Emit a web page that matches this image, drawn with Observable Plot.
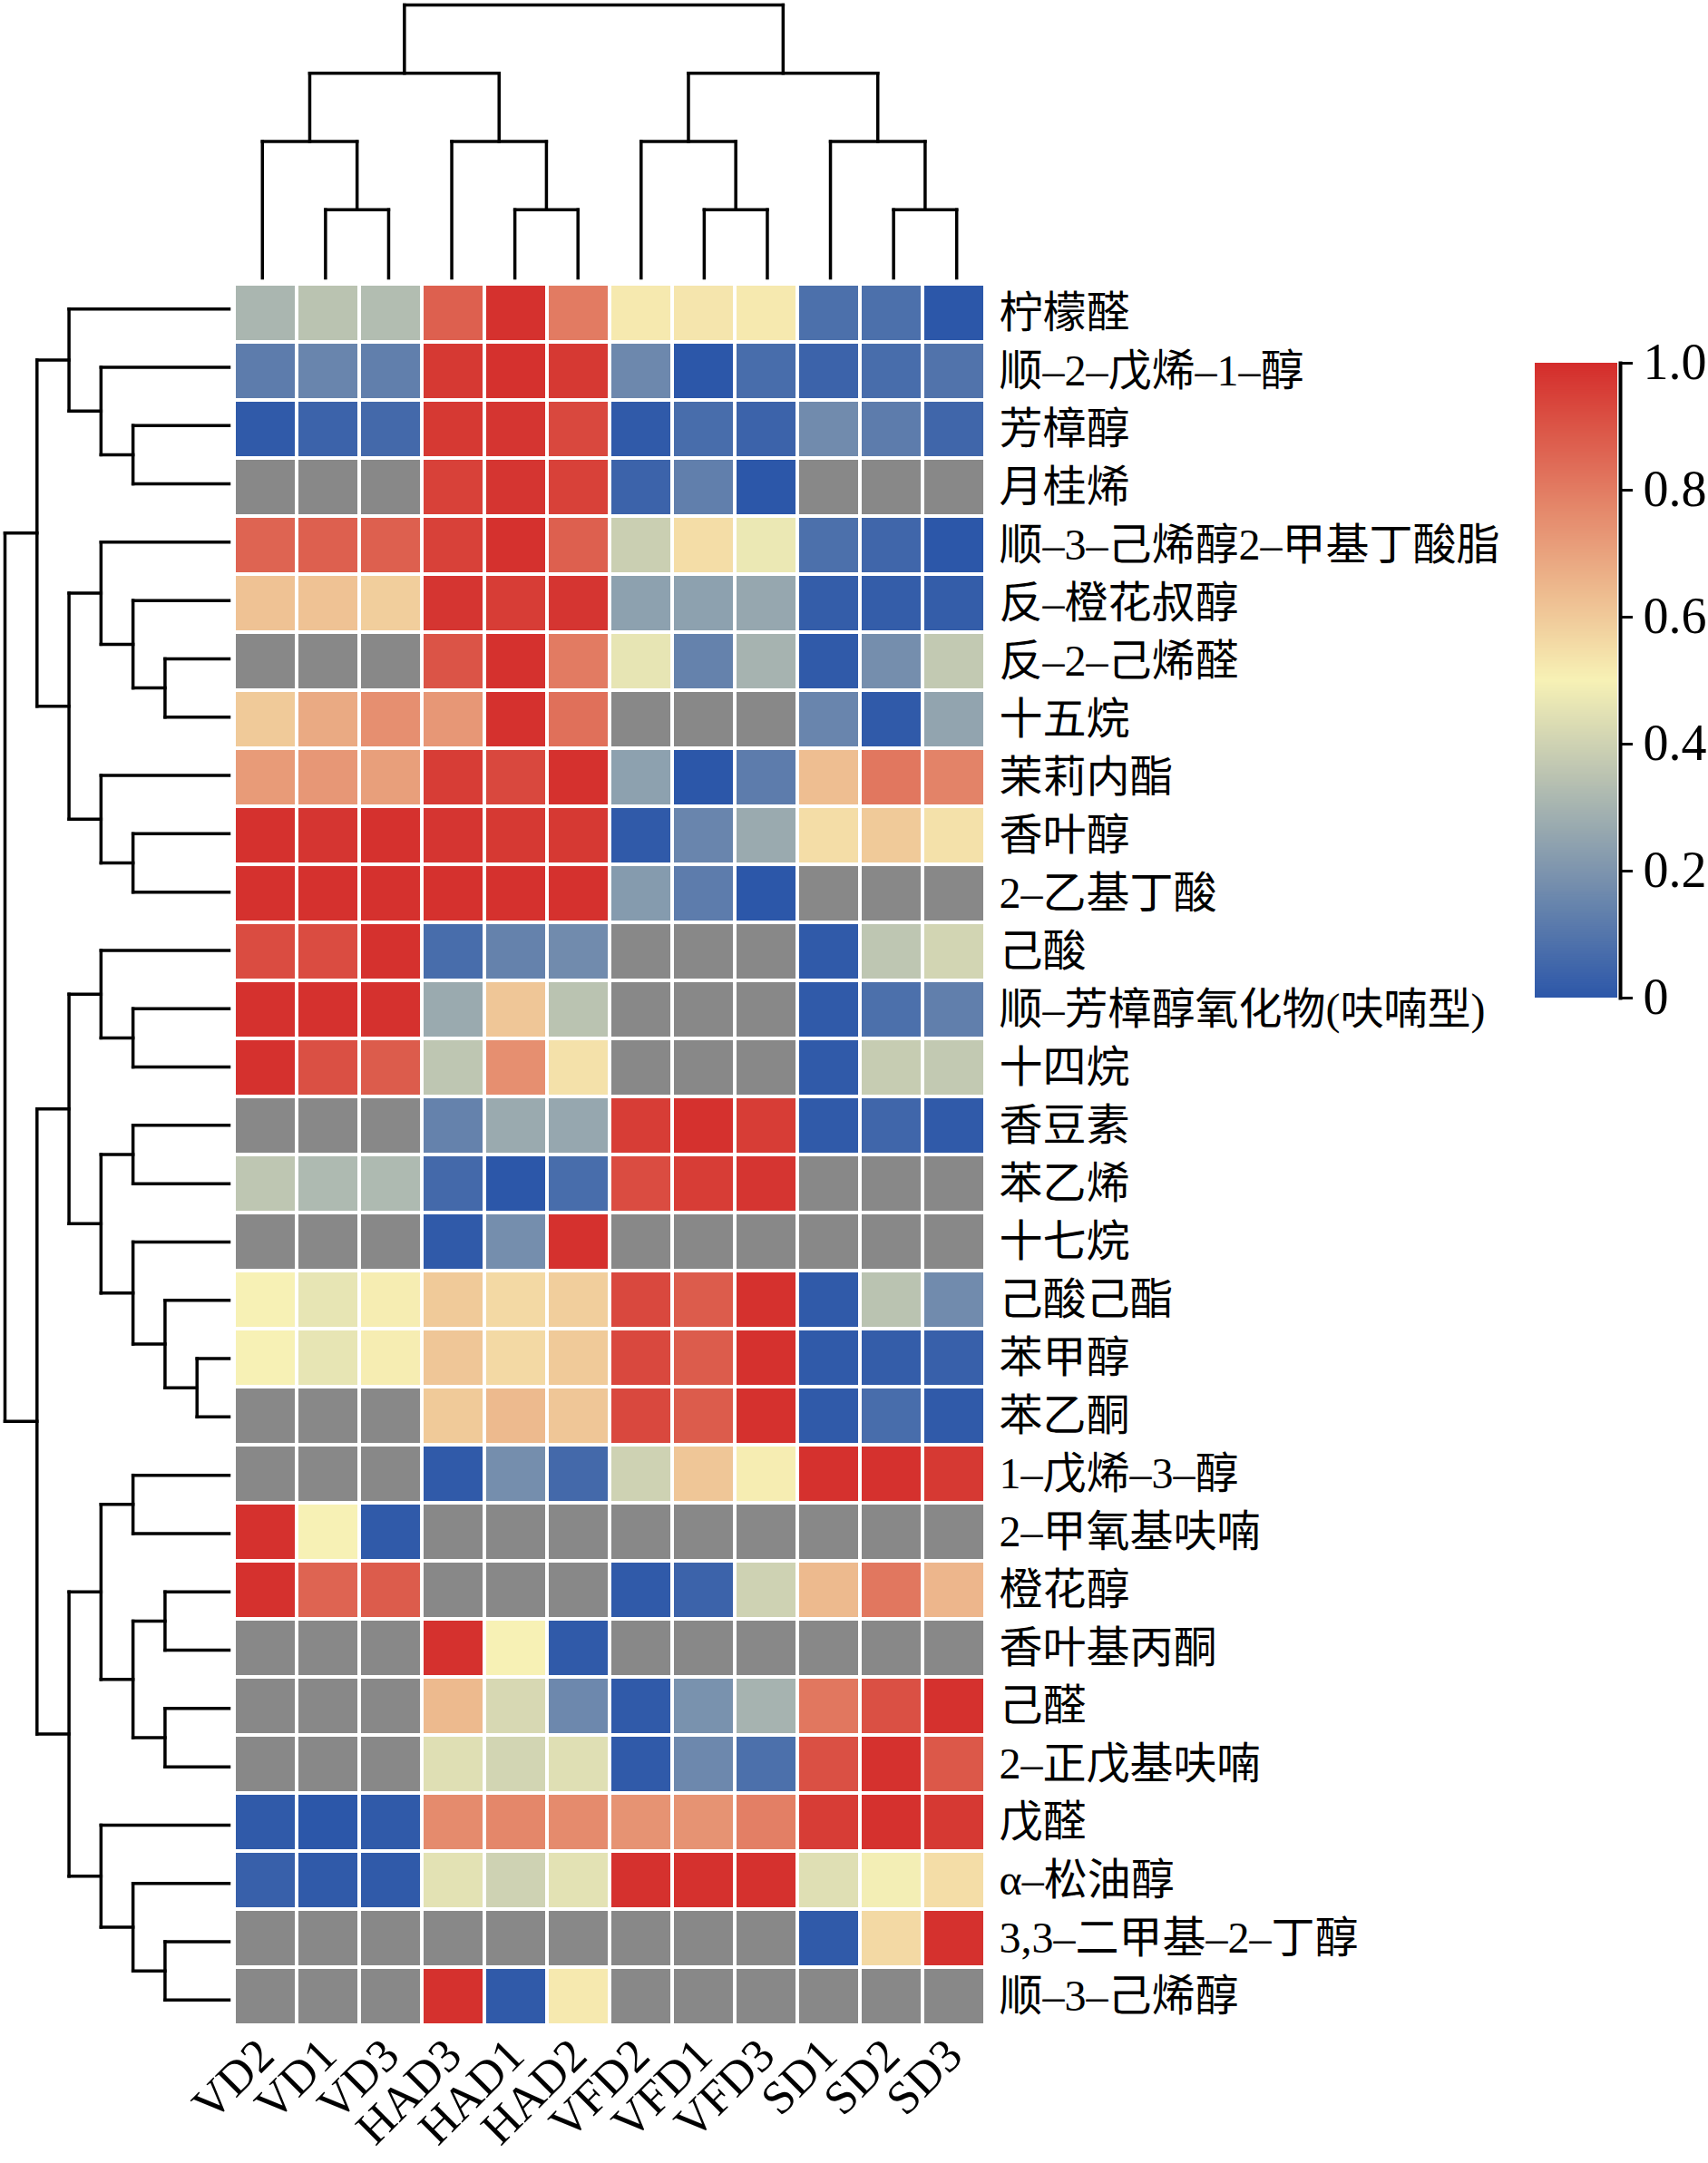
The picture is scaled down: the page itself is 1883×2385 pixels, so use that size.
<!DOCTYPE html>
<html><head><meta charset="utf-8">
<script src="https://cdn.jsdelivr.net/npm/d3@7"></script>
<script src="https://cdn.jsdelivr.net/npm/@observablehq/plot@0.6"></script>
<style>
body{margin:0;background:#fff;}
#chart{position:relative;width:1883px;height:2385px;overflow:hidden;background:#fff;}
#chart > svg{position:absolute;left:0;top:0;}
</style></head><body><div id="chart"></div>
<script>
// ---------- data ----------
const samples = ["VD2","VD1","VD3","HAD3","HAD1","HAD2","VFD2","VFD1","VFD3","SD1","SD2","SD3"];
const compounds = [
  "柠檬醛","顺–2–戊烯–1–醇","芳樟醇","月桂烯","顺–3–己烯醇2–甲基丁酸脂","反–橙花叔醇","反–2–己烯醛","十五烷",
  "茉莉内酯","香叶醇","2–乙基丁酸","己酸","顺–芳樟醇氧化物(呋喃型)","十四烷","香豆素","苯乙烯","十七烷",
  "己酸己酯","苯甲醇","苯乙酮","1–戊烯–3–醇","2–甲氧基呋喃","橙花醇","香叶基丙酮","己醛","2–正戊基呋喃",
  "戊醛","α–松油醇","3,3–二甲基–2–丁醇","顺–3–己烯醇"
];
const N = null; // not detected (grey)
// one row per compound, columns in the order of `samples`
const values = [
  [0.31,0.35,0.33, 0.87,0.99,0.80, 0.52,0.53,0.52, 0.08,0.08,0.00],
  [0.12,0.15,0.13, 0.97,0.99,0.97, 0.16,0.00,0.07, 0.04,0.07,0.09],
  [0.01,0.04,0.06, 0.97,0.98,0.93, 0.01,0.07,0.04, 0.17,0.12,0.05],
  [N,N,N,          0.95,0.98,0.95, 0.04,0.13,0.00, N,N,N],
  [0.86,0.87,0.87, 0.95,0.99,0.87, 0.39,0.55,0.47, 0.08,0.05,0.00],
  [0.62,0.62,0.59, 0.98,0.96,0.98, 0.24,0.24,0.26, 0.02,0.02,0.02],
  [N,N,N,          0.90,0.99,0.80, 0.46,0.14,0.30, 0.01,0.18,0.37],
  [0.60,0.68,0.75, 0.73,0.99,0.83, N,N,N,          0.15,0.01,0.25],
  [0.72,0.73,0.71, 0.96,0.93,0.99, 0.24,0.00,0.12, 0.63,0.81,0.78],
  [0.99,0.98,0.99, 0.98,0.97,0.97, 0.01,0.15,0.27, 0.55,0.60,0.54],
  [0.99,0.99,0.99, 0.99,0.99,0.99, 0.22,0.12,0.00, N,N,N],
  [0.92,0.92,0.99, 0.07,0.14,0.17, N,N,N,          0.01,0.36,0.41],
  [0.99,0.99,0.99, 0.27,0.61,0.35, N,N,N,          0.01,0.08,0.13],
  [0.99,0.91,0.88, 0.36,0.75,0.54, N,N,N,          0.01,0.38,0.37],
  [N,N,N,          0.14,0.27,0.26, 0.96,0.99,0.96, 0.01,0.05,0.01],
  [0.36,0.32,0.32, 0.06,0.00,0.07, 0.92,0.96,0.98, N,N,N],
  [N,N,N,          0.01,0.18,0.99, N,N,N,          N,N,N],
  [0.50,0.46,0.51, 0.60,0.56,0.59, 0.93,0.88,0.99, 0.01,0.35,0.17],
  [0.50,0.46,0.51, 0.61,0.56,0.60, 0.93,0.88,0.99, 0.01,0.02,0.03],
  [N,N,N,          0.60,0.64,0.61, 0.93,0.88,0.99, 0.01,0.07,0.01],
  [N,N,N,          0.01,0.18,0.06, 0.40,0.61,0.51, 0.99,0.99,0.97],
  [0.99,0.50,0.01, N,N,N,          N,N,N,          N,N,N],
  [0.99,0.86,0.88, N,N,N,          0.01,0.04,0.40, 0.64,0.81,0.65],
  [N,N,N,          0.99,0.50,0.01, N,N,N,          N,N,N],
  [N,N,N,          0.64,0.42,0.16, 0.01,0.19,0.30, 0.81,0.91,0.99],
  [N,N,N,          0.44,0.41,0.44, 0.01,0.16,0.08, 0.91,0.99,0.89],
  [0.01,0.00,0.01, 0.76,0.77,0.76, 0.74,0.74,0.79, 0.96,0.99,0.97],
  [0.03,0.01,0.01, 0.45,0.40,0.45, 0.99,0.99,0.99, 0.44,0.49,0.55],
  [N,N,N,          N,N,N,          N,N,N,          0.01,0.56,0.99],
  [N,N,N,          0.99,0.01,0.52, N,N,N,          N,N,N]
];
// dendrograms: [height, left, right]; leaves = sample name / compound row index
const colTree = [4,
  [3, [2, "VD2", [1, "VD1", "VD3"]], [2, "HAD3", [1, "HAD1", "HAD2"]]],
  [3, [2, "VFD2", [1, "VFD1", "VFD3"]], [2, "SD1", [1, "SD2", "SD3"]]]
];
const rowTree = [7,
  [6,
    [5, 0, [4, 1, [3, 2, 3]]],
    [5, [4, 4, [3, 5, [2, 6, 7]]], [4, 8, [3, 9, 10]]]
  ],
  [6,
    [5, [4, 11, [3, 12, 13]], [4, [3, 14, 15], [3, 16, [2, 17, [1, 18, 19]]]]],
    [5, [4, [3, 20, 21], [3, [2, 22, 23], [2, 24, 25]]], [4, 26, [3, 27, [2, 28, 29]]]]
  ]
];
const colorDomain = [0, 0.5, 1];
const colorRange = ["#2c57a9", "#f7f1b5", "#d42d2b"];
const colorTicks = [0, 0.2, 0.4, 0.6, 0.8, 1.0];
const missingColor = "#888888";

// ---------- layout ----------
const W = 1883, H = 2385;
const gridL = 254, gridR = 1089, gridT = 308, gridB = 2237;
const serif = '"Liberation Serif","Noto Sans CJK SC",serif';
const colorScale = {type: "linear", domain: colorDomain, range: colorRange, interpolate: "rgb"};
const chart = document.getElementById("chart");
function put(svg){ svg.style.position = "absolute"; svg.style.left = "0"; svg.style.top = "0"; chart.appendChild(svg); }

// ---------- heatmap ----------
const cells = compounds.flatMap((c, i) => samples.map((s, j) => ({compound: c, sample: s, v: values[i][j]})));
put(Plot.plot({
  width: W, height: H,
  marginLeft: gridL, marginRight: W - gridR, marginTop: gridT, marginBottom: H - gridB,
  style: {background: "transparent", fontFamily: serif, fontSize: "48px", color: "#000"},
  x: {domain: samples, padding: 0, label: null},
  y: {domain: compounds, padding: 0, label: null},
  color: colorScale,
  marks: [
    Plot.cell(cells, {x: "sample", y: "compound", fill: missingColor, inset: 2}),
    Plot.cell(cells.filter(d => d.v != null), {x: "sample", y: "compound", fill: "v", inset: 2}),
    Plot.axisY({anchor: "right", tickSize: 0, tickPadding: 12, fontSize: 48, label: null, fill: "#000"}),
    Plot.axisX({anchor: "bottom", tickSize: 0, tickPadding: 20, tickRotate: -45, fontSize: 52, label: null, fill: "#000"})
  ]
}));

// ---------- dendrograms ----------
function dendro(tree, order) {
  const segs = [];
  function walk(n) {
    if (!Array.isArray(n)) return {pos: typeof n === "number" ? n : order.indexOf(n), h: 0};
    const [h, a, b] = n;
    const A = walk(a), B = walk(b);
    segs.push({p1: A.pos, h1: A.h, p2: A.pos, h2: h});
    segs.push({p1: B.pos, h1: B.h, p2: B.pos, h2: h});
    segs.push({p1: A.pos, h1: h, p2: B.pos, h2: h});
    return {pos: (A.pos + B.pos) / 2, h};
  }
  walk(tree);
  return segs;
}
const colSegs = dendro(colTree, samples);
const rowSegs = dendro(rowTree, compounds);

put(Plot.plot({
  width: W, height: 330, margin: 0,
  style: {background: "transparent"},
  x: {domain: [-0.5, samples.length - 0.5], range: [gridL, gridR], axis: null},
  y: {domain: [0, 4], range: [306, 5], axis: null},
  marks: [Plot.link(colSegs, {x1: "p1", y1: "h1", x2: "p2", y2: "h2", stroke: "#000", strokeWidth: 3.5, strokeLinecap: "square"})]
}));

put(Plot.plot({
  width: 270, height: H, margin: 0,
  style: {background: "transparent"},
  x: {domain: [0, 7], range: [252, 5], axis: null},
  y: {domain: [-0.5, compounds.length - 0.5], range: [gridT, gridB], axis: null},
  marks: [Plot.link(rowSegs, {x1: "h1", y1: "p1", x2: "h2", y2: "p2", stroke: "#000", strokeWidth: 3.5, strokeLinecap: "square"})]
}));

// ---------- colour bar ----------
const barL = 1692, barR = 1783, barAxis = 1786, barT = 400, barB = 1100;
const step = 0.0025;
const ramp = d3.range(0, 1, step);
put(Plot.plot({
  width: W, height: H,
  marginLeft: barL, marginRight: W - barAxis, marginTop: barT, marginBottom: H - barB,
  style: {background: "transparent", fontFamily: serif, fontSize: "56px", color: "#000"},
  x: {domain: [0, 1], range: [barL, barR], axis: null},
  y: {domain: [0, 1], axis: null},
  color: colorScale,
  marks: [
    Plot.rect(ramp, {x1: 0, x2: 1, y1: d => d, y2: d => Math.min(1, d + step * 1.6), fill: d => d + step / 2}),
    Plot.frame({anchor: "right", stroke: "#000", strokeWidth: 4}),
    Plot.axisY(colorTicks, {anchor: "right", tickSize: 13, tickPadding: 12, strokeWidth: 3, fontSize: 56, fill: "#000", stroke: "#000",
      tickFormat: d => d === 0 ? "0" : d.toFixed(1), label: null})
  ]
}));
</script></body></html>
